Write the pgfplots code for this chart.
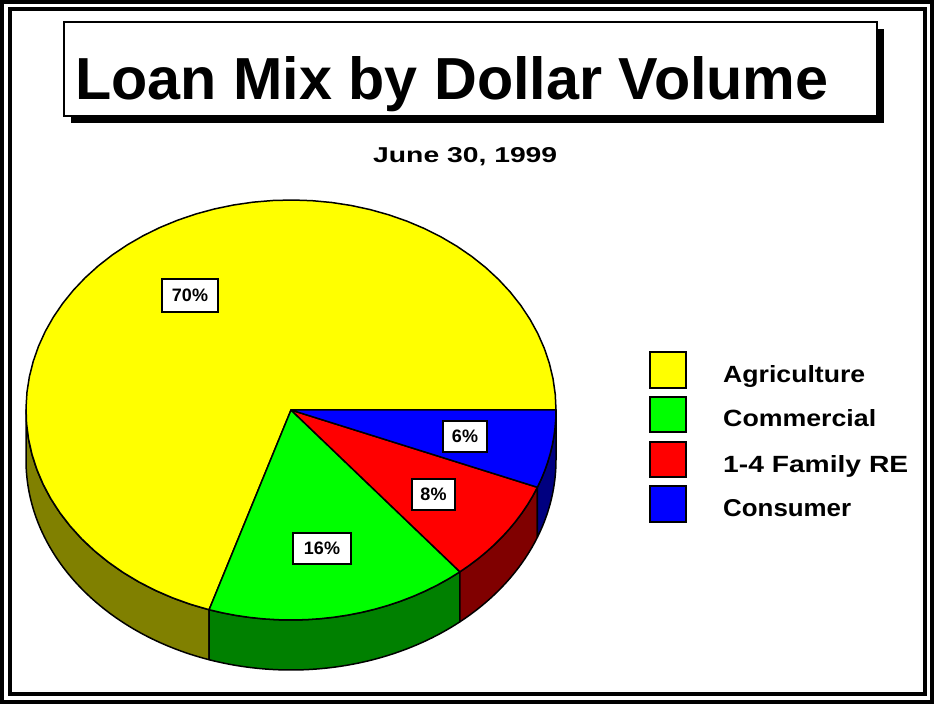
\documentclass[border=0pt]{standalone}
\usepackage{fontspec}
\setmainfont{Liberation Sans}
\usepackage{graphicx}
\usepackage{pgfplots}
\usepackage{pgfplotstable}
\pgfplotsset{compat=1.18}

\definecolor{cYel}{RGB}{255,255,0}
\definecolor{cGrn}{RGB}{0,255,0}
\definecolor{cRed}{RGB}{255,0,0}
\definecolor{cBlu}{RGB}{0,0,255}
\definecolor{sYel}{RGB}{128,128,0}
\definecolor{sGrn}{RGB}{0,128,0}
\definecolor{sRed}{RGB}{128,0,0}
\definecolor{sBlu}{RGB}{0,0,128}

\pgfplotstableread{
label value
Agriculture 70
Commercial 16
Family 8
Consumer 6
}\loandata

\pgfplotstablegetelem{0}{value}\of\loandata \let\vA\pgfplotsretval
\pgfplotstablegetelem{1}{value}\of\loandata \let\vB\pgfplotsretval
\pgfplotstablegetelem{2}{value}\of\loandata \let\vC\pgfplotsretval
\pgfplotstablegetelem{3}{value}\of\loandata \let\vD\pgfplotsretval
\pgfmathsetmacro{\aA}{3.6*\vA}
\pgfmathsetmacro{\aB}{\aA+3.6*\vB}
\pgfmathsetmacro{\aC}{\aB+3.6*\vC}
\pgfmathsetmacro{\aD}{\aC+3.6*\vD}

\begin{document}
\begin{tikzpicture}
\begin{axis}[
  x=1pt, y=1pt,
  xmin=0, xmax=934, ymin=0, ymax=704,
  hide axis, clip=false,
  scale only axis,
  no markers,
]
\path (axis cs:0,0) rectangle (axis cs:934,704);
% frames
\draw[line width=4pt] (axis cs:2,2.5) rectangle (axis cs:932,702);
\draw[line width=4pt] (axis cs:9.5,10) rectangle (axis cs:925,695);
% title box
\fill[black] (axis cs:71,581) rectangle (axis cs:884,675);
\draw[line width=2.5pt, fill=white] (axis cs:64,588) rectangle (axis cs:877,682);
\node[anchor=base west, inner sep=0pt] at (axis cs:75,604)
  {\resizebox{753pt}{43pt}{\bfseries Loan Mix by Dollar Volume}};
\node[anchor=base west, inner sep=0pt] at (axis cs:373,541)
  {\resizebox{184pt}{15pt}{\bfseries June 30, 1999}};

% side faces
\addplot[fill=sYel, draw=black, line width=1.5pt, line join=round, domain=180:\aA, samples=30, variable=\t]
  ({291+265*cos(\t)},{294+210*sin(\t)}) -- ++(0pt,-50pt)
  arc[start angle=\aA, end angle=180, x radius=265pt, y radius=210pt] -- cycle;
\addplot[fill=sGrn, draw=black, line width=1.5pt, line join=round, domain=\aA:\aB, samples=30, variable=\t]
  ({291+265*cos(\t)},{294+210*sin(\t)}) -- ++(0pt,-50pt)
  arc[start angle=\aB, end angle=\aA, x radius=265pt, y radius=210pt] -- cycle;
\addplot[fill=sRed, draw=black, line width=1.5pt, line join=round, domain=\aB:\aC, samples=20, variable=\t]
  ({291+265*cos(\t)},{294+210*sin(\t)}) -- ++(0pt,-50pt)
  arc[start angle=\aC, end angle=\aB, x radius=265pt, y radius=210pt] -- cycle;
\addplot[fill=sBlu, draw=black, line width=1.5pt, line join=round, domain=\aC:\aD, samples=20, variable=\t]
  ({291+265*cos(\t)},{294+210*sin(\t)}) -- ++(0pt,-50pt)
  arc[start angle=\aD, end angle=\aC, x radius=265pt, y radius=210pt] -- cycle;

% top faces
\addplot[fill=cYel, draw=black, line width=1.5pt, line join=round, domain=0:\aA, samples=60, variable=\t]
  ({291+265*cos(\t)},{294+210*sin(\t)}) -- (axis cs:291,294) -- cycle;
\addplot[fill=cGrn, draw=black, line width=1.5pt, line join=round, domain=\aA:\aB, samples=20, variable=\t]
  ({291+265*cos(\t)},{294+210*sin(\t)}) -- (axis cs:291,294) -- cycle;
\addplot[fill=cRed, draw=black, line width=1.5pt, line join=round, domain=\aB:\aC, samples=12, variable=\t]
  ({291+265*cos(\t)},{294+210*sin(\t)}) -- (axis cs:291,294) -- cycle;
\addplot[fill=cBlu, draw=black, line width=1.5pt, line join=round, domain=\aC:\aD, samples=10, variable=\t]
  ({291+265*cos(\t)},{294+210*sin(\t)}) -- (axis cs:291,294) -- cycle;

% slice labels
\tikzset{plab/.style={draw=black, line width=1.5pt, fill=white, inner sep=0pt, font=\fontsize{18}{20}\selectfont\bfseries}}
\node[plab, minimum width=56pt, minimum height=33pt] at (axis cs:190,408.5) {70\%};
\node[plab, minimum width=58pt, minimum height=31pt] at (axis cs:322,155.5) {16\%};
\node[plab, minimum width=43pt, minimum height=31pt] at (axis cs:433.5,209.5) {8\%};
\node[plab, minimum width=44pt, minimum height=31pt] at (axis cs:465,267.5) {6\%};

% legend
\draw[line width=1.5pt, fill=cYel] (axis cs:650,316) rectangle (axis cs:686,352);
\draw[line width=1.5pt, fill=cGrn] (axis cs:650,272) rectangle (axis cs:686,307);
\draw[line width=1.5pt, fill=cRed] (axis cs:650,227) rectangle (axis cs:686,262);
\draw[line width=1.5pt, fill=cBlu] (axis cs:650,182) rectangle (axis cs:686,218);
\node[anchor=base west, inner sep=0pt] at (axis cs:723,321) {\resizebox{142pt}{17pt}{\bfseries Agriculture}};
\node[anchor=base west, inner sep=0pt] at (axis cs:723,277) {\resizebox{153pt}{17pt}{\bfseries Commercial}};
\node[anchor=base west, inner sep=0pt] at (axis cs:723,231) {\resizebox{185pt}{17pt}{\bfseries 1-4 Family RE}};
\node[anchor=base west, inner sep=0pt] at (axis cs:723,187) {\resizebox{128pt}{17pt}{\bfseries Consumer}};
\end{axis}
\end{tikzpicture}
\end{document}
